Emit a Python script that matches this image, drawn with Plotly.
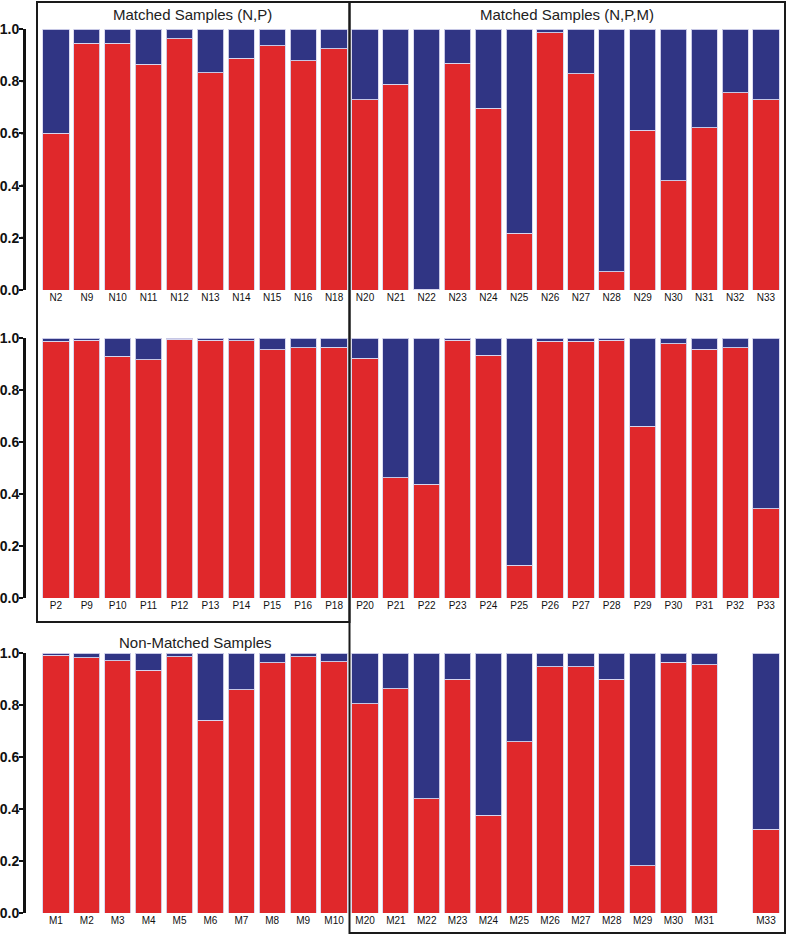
import plotly.graph_objects as go

W, H = 787, 936

# ---- data ----
n_left = ["N2", "N9", "N10", "N11", "N12", "N13", "N14", "N15", "N16", "N18"]
n_left_red = [0.601, 0.945, 0.945, 0.865, 0.962, 0.833, 0.888, 0.935, 0.879, 0.925]
n_right = ["N20", "N21", "N22", "N23", "N24", "N25", "N26", "N27", "N28", "N29", "N30", "N31", "N32", "N33"]
n_right_red = [0.729, 0.789, 0.003, 0.868, 0.696, 0.217, 0.985, 0.829, 0.070, 0.613, 0.418, 0.622, 0.755, 0.728]

p_left = ["P2", "P9", "P10", "P11", "P12", "P13", "P14", "P15", "P16", "P18"]
p_left_red = [0.988, 0.992, 0.929, 0.917, 0.995, 0.992, 0.990, 0.954, 0.962, 0.964]
p_right = ["P20", "P21", "P22", "P23", "P24", "P25", "P26", "P27", "P28", "P29", "P30", "P31", "P32", "P33"]
p_right_red = [0.922, 0.462, 0.437, 0.991, 0.933, 0.126, 0.988, 0.987, 0.992, 0.660, 0.978, 0.956, 0.962, 0.344]

m_left = ["M1", "M2", "M3", "M4", "M5", "M6", "M7", "M8", "M9", "M10"]
m_left_red = [0.991, 0.981, 0.971, 0.933, 0.985, 0.741, 0.858, 0.963, 0.986, 0.967]
m_right = ["M20", "M21", "M22", "M23", "M24", "M25", "M26", "M27", "M28", "M29", "M30", "M31", "M32", "M33"]
m_right_red = [0.804, 0.863, 0.440, 0.899, 0.376, 0.658, 0.947, 0.947, 0.899, 0.182, 0.964, 0.955, None, 0.323]
m_right_ticktext = ["M20", "M21", "M22", "M23", "M24", "M25", "M26", "M27", "M28", "M29", "M30", "M31", "", "M33"]

y_ticks = [0.0, 0.2, 0.4, 0.6, 0.8, 1.0]

RED = "#E0282B"
BLUE = "#303584"
EDGE = "rgba(215,215,240,0.9)"
AXIS = "#111111"

panels = [
    (n_left, n_left_red, n_left, 1, "left"),
    (n_right, n_right_red, n_right, 1, "right"),
    (p_left, p_left_red, p_left, 2, "left"),
    (p_right, p_right_red, p_right, 2, "right"),
    (m_left, m_left_red, m_left, 3, "left"),
    (m_right, m_right_red, m_right_ticktext, 3, "right"),
]

# pixel layout -> paper coords
row_px = {1: (29, 290), 2: (338, 598), 3: (653, 913)}
col_px = {"left": (25, 349.5), "right": (349.6, 781.4)}
col_range = {"left": [-1.0, 9.5], "right": [-0.5, 13.5]}


def px_x(v):
    return v / W


def px_y(v):
    return 1 - v / H


fig = go.Figure()
layout = {}
shapes = []
for i, (cats, red, ticktext, row, col) in enumerate(panels, start=1):
    xa = "x" if i == 1 else f"x{i}"
    ya = "y" if i == 1 else f"y{i}"
    blue = [None if r is None else round(1 - r, 3) for r in red]
    fig.add_trace(go.Bar(x=cats, y=red, marker=dict(color=RED, line=dict(color=EDGE, width=1)),
                         xaxis=xa, yaxis=ya, showlegend=False))
    fig.add_trace(go.Bar(x=cats, y=blue, marker=dict(color=BLUE, line=dict(color=EDGE, width=1)),
                         xaxis=xa, yaxis=ya, showlegend=False))
    x0, x1 = col_px[col]
    yt, yb = row_px[row]
    layout["xaxis" if i == 1 else f"xaxis{i}"] = dict(
        domain=[x0 / W, x1 / W], anchor=ya, type="category", range=col_range[col],
        tickmode="array", tickvals=cats, ticktext=ticktext, automargin=False,
        showline=False, showgrid=False, zeroline=False, ticks="",
        tickfont=dict(family="Liberation Sans, Arial", size=10, color="#111"))
    yaxis = dict(
        domain=[1 - yb / H, 1 - yt / H], anchor=xa, range=[0, 1.0], automargin=False,
        showgrid=False, zeroline=False)
    if col == "left":
        yaxis.update(
            tickmode="array", tickvals=y_ticks, ticktext=[f"{v:.1f}" for v in y_ticks],
            showticklabels=True, showline=True, linecolor=AXIS, linewidth=2,
            ticks="outside", ticklen=4, tickwidth=2, tickcolor=AXIS, ticklabelstandoff=-3,
            tickfont=dict(family="Liberation Sans, Arial", size=14, color="#111", weight="bold"))
        # axis spine and tick marks (drawn on the y scale of this panel)
        shapes.append(dict(type="line", xref="paper", yref=ya, x0=px_x(25), x1=px_x(25),
                           y0=y_ticks[0], y1=y_ticks[-1], layer="above", line=dict(color=AXIS, width=2)))
        for v in y_ticks:
            shapes.append(dict(type="line", xref="paper", yref=ya, x0=px_x(21), x1=px_x(25),
                               y0=v, y1=v, layer="above", line=dict(color=AXIS, width=2)))
    else:
        yaxis.update(showticklabels=False, showline=False, ticks="")
    layout["yaxis" if i == 1 else f"yaxis{i}"] = yaxis

fig.update_layout(**layout)

shapes += [
    dict(type="rect", xref="paper", yref="paper", x0=px_x(37), x1=px_x(349.5), y0=px_y(622), y1=px_y(2),
         line=dict(color="#1a1a1a", width=2)),
    dict(type="rect", xref="paper", yref="paper", x0=px_x(349.5), x1=px_x(785), y0=px_y(933), y1=px_y(2),
         line=dict(color="#1a1a1a", width=2)),
]

title_font = dict(family="Liberation Sans, Arial", size=15, color="#222")
annotations = [
    dict(text="Matched Samples (N,P)", x=px_x(192), y=px_y(15), xref="paper", yref="paper",
         xanchor="center", yanchor="middle", showarrow=False, font=title_font),
    dict(text="Matched Samples (N,P,M)", x=px_x(567), y=px_y(15), xref="paper", yref="paper",
         xanchor="center", yanchor="middle", showarrow=False, font=title_font),
    dict(text="Non-Matched Samples", x=px_x(195), y=px_y(642), xref="paper", yref="paper",
         xanchor="center", yanchor="middle", showarrow=False, font=title_font),
]

fig.update_layout(
    template="none",
    width=W, height=H, barmode="stack", bargap=0.15,
    margin=dict(l=0, r=0, t=0, b=0, pad=0, autoexpand=False),
    paper_bgcolor="white", plot_bgcolor="white",
    shapes=shapes, annotations=annotations,
)

fig.write_html("out.html", config={"displayModeBar": False, "staticPlot": True},
               post_script="document.body.style.margin='0';document.body.style.overflow='hidden';")
